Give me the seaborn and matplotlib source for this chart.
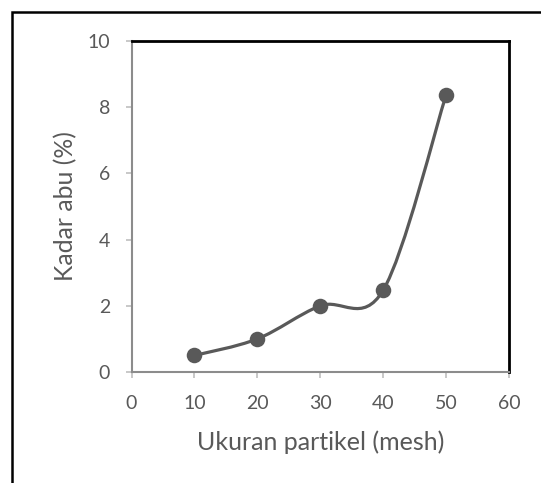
import numpy as np
import pandas as pd
import matplotlib
matplotlib.use('Agg')
import matplotlib.pyplot as plt
import seaborn as sns
from matplotlib.path import Path
from matplotlib.patches import PathPatch, Rectangle

# Data
ukuran = [10, 20, 30, 40, 50]
kadar_abu = [0.5, 1.0, 2.0, 2.47, 8.37]
x_ticks = [0, 10, 20, 30, 40, 50, 60]
y_ticks = [0, 2, 4, 6, 8, 10]

GREY = '#595959'

sns.set_theme(style='white')
plt.rcParams['font.family'] = ['Lato', 'DejaVu Sans']

W, H = 541, 483
fig = plt.figure(figsize=(W / 100, H / 100), dpi=100)
ax = fig.add_axes([131.5 / W, 1 - 372 / H, 377.5 / W, 331 / H])

df = pd.DataFrame({'x': ukuran, 'y': kadar_abu})


def smooth_path(xs, ys, t=1/6):
    """Excel-style smoothed line as cubic bezier segments"""
    pts = np.column_stack([xs, ys]).astype(float)
    n = len(pts)
    verts = [pts[0]]
    codes = [Path.MOVETO]
    for i in range(n - 1):
        p0 = pts[i - 1] if i > 0 else pts[i]
        p1 = pts[i]
        p2 = pts[i + 1]
        p3 = pts[i + 2] if i + 2 < n else pts[i + 1]
        c1 = p1 + (p2 - p0) * t
        c2 = p2 - (p3 - p1) * t
        verts += [c1, c2, p2]
        codes += [Path.CURVE4] * 3
    return Path(verts, codes)


ax.add_patch(PathPatch(smooth_path(df['x'], df['y']), facecolor='none',
                       edgecolor=GREY, lw=2.3, capstyle='round', zorder=2))
sns.scatterplot(data=df, x='x', y='y', ax=ax, s=125, color=GREY,
                edgecolor=GREY, linewidth=0, zorder=3)

ax.set_xlim(0, 60)
ax.set_ylim(0, 10)
ax.set_xticks(x_ticks)
ax.set_yticks(y_ticks)
ax.tick_params(axis='both', labelcolor=GREY, color='#bfbfbf', labelsize=14,
               length=4.5, width=1.2, direction='out', bottom=True, left=True)
ax.tick_params(axis='x', pad=12)
ax.tick_params(axis='y', pad=11)

ax.set_xlabel('Ukuran partikel (mesh)', fontsize=17, color=GREY)
ax.set_ylabel('Kadar abu (%)', fontsize=17, color=GREY)

# fit axis title sizes to the reference text lengths (px)
fig.canvas.draw()
r = fig.canvas.get_renderer()
wx = ax.xaxis.label.get_window_extent(r).width
wy = ax.yaxis.label.get_window_extent(r).height
ax.xaxis.label.set_fontsize(17 * 248 / wx)
ax.yaxis.label.set_fontsize(17 * 149 / wy)

ax.xaxis.set_label_coords(0.5, (372 - 430) / 331)
ax.yaxis.set_label_coords((77 - 131.5) / 377.5, (372 - 206) / 331)

for side in ['top', 'right']:
    ax.spines[side].set_color('black')
    ax.spines[side].set_linewidth(2)
for side in ['left', 'bottom']:
    ax.spines[side].set_color('#8c8c8c')
    ax.spines[side].set_linewidth(1.5)

# outer frame
fig.patches.append(Rectangle((12 / W, -0.1), 1.2, 1 - 12 / H + 0.1,
                             transform=fig.transFigure, fill=False,
                             edgecolor='black', lw=1.8, zorder=10))

fig.savefig('out.png', dpi=100)
